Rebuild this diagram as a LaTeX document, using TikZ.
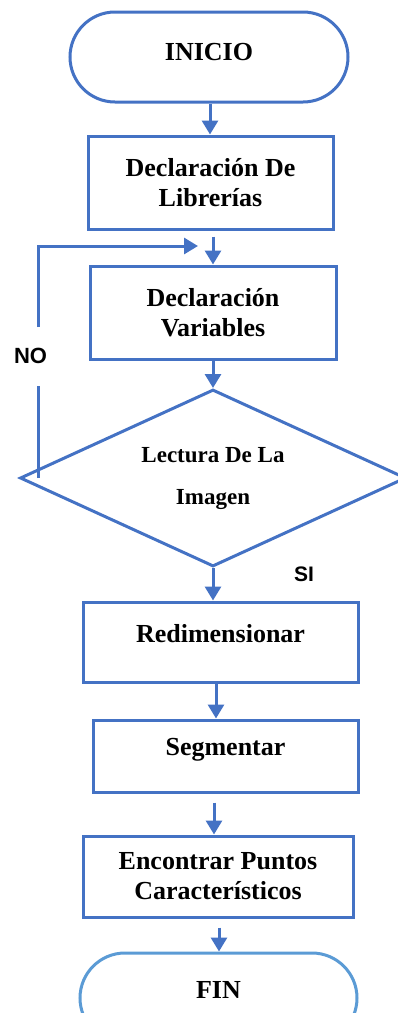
\documentclass[tikz,border=0pt]{standalone}
\usepackage{fontspec}
\setmainfont{Liberation Serif}
\newfontfamily\labelfont{Liberation Sans}
\usetikzlibrary{shapes.geometric,arrows.meta}
\definecolor{flowblue}{HTML}{4472C4}
\definecolor{endblue}{HTML}{5B9BD5}

\begin{document}
\begin{tikzpicture}[x=1pt,y=-1pt,
  flowline/.style={draw=flowblue,line width=3pt},
  arr/.style={flowline,-{Triangle[length=14pt,width=16pt]}},
  box/.style={flowline,rectangle,align=center,
    font=\bfseries\fontsize{26}{30}\selectfont},
  term/.style={box,rounded corners=45pt},
  decision/.style={flowline,diamond,aspect=2.18,align=center,inner sep=0pt,
    font=\bfseries\fontsize{23}{27}\selectfont},
  tag/.style={inner sep=0pt,font=\labelfont\bfseries\fontsize{22}{26}\selectfont}
]
\useasboundingbox (0,0) rectangle (398,1013);
\clip (0,0) rectangle (398,1013);

% process steps
\node[term,minimum width=278pt,minimum height=90pt,text depth=10pt] (ini) at (209,57) {INICIO};
\node[box,minimum width=245pt,minimum height=93pt] (lib) at (210.5,182.5) {Declaración De\\Librerías};
\node[box,minimum width=246pt,minimum height=93pt] (var) at (213,312.5) {Declaración\\Variables};
\node[decision,minimum width=386pt,minimum height=177pt] (read) at (213,478) {Lectura De La\\[15pt]Imagen};
\node[box,minimum width=275pt,minimum height=80pt,text depth=18pt] (res) at (220.5,642) {Redimensionar};
\node[box,minimum width=265pt,minimum height=72pt,text depth=18pt] (seg) at (225.5,756) {Segmentar};
\node[box,minimum width=270pt,minimum height=81pt] (pts) at (218,876.5) {Encontrar Puntos\\Característicos};
\node[term,draw=endblue,minimum width=277pt,minimum height=90pt,text depth=16pt] (fin) at (218.5,998) {FIN};

% branch labels
\node[tag] (no) at (30.5,356) {NO};
\begin{scope}
  \clip (250,540) rectangle (360,581);
  \node[tag,font=\labelfont\bfseries\fontsize{21}{25}\selectfont] (si) at (304,574) {SI};
\end{scope}

% arrow columns
\coordinate (x1) at (210,0);
\coordinate (x2) at (213,0);
\coordinate (x3) at (216,0);
\coordinate (x4) at (214,0);
\coordinate (x5) at (219,0);

% main flow
\draw[arr] (ini.south -| x1) -- (lib.north -| x1);
\draw[arr,shorten <=6pt] (lib.south -| x2) -- (var.north -| x2);
\draw[arr] (var.south -| x2) -- (read.north);
\draw[arr] (read.south) -- (res.north -| read.south);
\draw[arr] (res.south -| x3) -- (seg.north -| x3);
\draw[arr,shorten <=9pt] (seg.south -| x4) -- (pts.north -| x4);
\draw[arr,shorten <=9pt] (pts.south -| x5) -- (fin.north -| x5);

% loop back on NO
\coordinate (lb) at (38,478);
\coordinate (la) at (38,386);
\coordinate (lc) at (38,327);
\coordinate (lt) at (38,246);
\coordinate (le) at (198,246);
\draw[flowline] (lb) -- (la);
\draw[arr] (lc) -- (lt) -- (le);
\end{tikzpicture}
\end{document}
